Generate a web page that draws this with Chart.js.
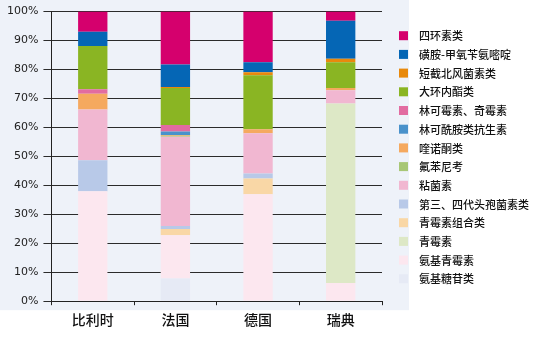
<!DOCTYPE html>
<html>
<head>
<meta charset="utf-8">
<script src="https://cdn.jsdelivr.net/npm/chart.js@4/dist/chart.umd.min.js"></script>
<style>
  html, body { margin: 0; padding: 0; background: #fff; }
  canvas { display: block; }
</style>
</head>
<body>
<canvas id="amrShareChart" width="554" height="337"></canvas>
<script>
// countries along the x axis
const countries = ['比利时', '法国', '德国', '瑞典'];

// share of each antibiotic class (%), stacked from the bottom up
const aminoglycosides   = [0,    7.8,  0,    0];
const aminopenicillins  = [38.0, 15.0, 36.9, 6.3];
const penicillins       = [0,    0,    0,    62.0];
const penicillinCombos  = [0,    2.1,  5.5,  0];
const cephalosporins34  = [10.7, 1.1,  1.7,  0];
const colistin          = [17.5, 30.8, 13.9, 4.5];
const florfenicol       = [0,    0.3,  0,    0];
const quinolones        = [5.4,  0.3,  1.4,  0.8];
const lincosamides      = [0,    1.2,  0,    0];
const lincoSpectino     = [1.6,  2.2,  0,    0];
const macrolides        = [14.9, 12.8, 18.6, 8.9];
const pleuromutilins    = [0,    0.4,  1.1,  1.2];
const sulfaTmp          = [4.9,  7.7,  3.4,  13.1];
const tetracyclines     = [7.0,  18.3, 17.5, 3.2];

const yTicks = [0, 10, 20, 30, 40, 50, 60, 70, 80, 90, 100];

const series = [
    { label: '氨基糖苷类', data: aminoglycosides, color: '#E6EAF5' },
    { label: '氨基青霉素', data: aminopenicillins, color: '#FCE7EF' },
    { label: '青霉素', data: penicillins, color: '#DDE8C6' },
    { label: '青霉素组合类', data: penicillinCombos, color: '#F9D7A6' },
    { label: '第三、四代头孢菌素类', data: cephalosporins34, color: '#B8C9E8' },
    { label: '粘菌素', data: colistin, color: '#F1B7D1' },
    { label: '氟苯尼考', data: florfenicol, color: '#A8C776' },
    { label: '喹诺酮类', data: quinolones, color: '#F5A95F' },
    { label: '林可酰胺类抗生素', data: lincosamides, color: '#4A92CB' },
    { label: '林可霉素、奇霉素', data: lincoSpectino, color: '#E26CA1' },
    { label: '大环内酯类', data: macrolides, color: '#8AB523' },
    { label: '短截北风菌素类', data: pleuromutilins, color: '#E8890C' },
    { label: '磺胺-甲氧苄氨嘧啶', data: sulfaTmp, color: '#0566B5' },
    { label: '四环素类', data: tetracyclines, color: '#D5006D' }
];

// pale panel behind the plot and axes
const panelBg = {
    id: 'panelBg',
    beforeDraw(chart) {
        const { ctx, chartArea } = chart;
        ctx.save();
        ctx.fillStyle = '#EEF2F9';
        ctx.fillRect(0, 0, chartArea.right + 27, chartArea.bottom + 9);
        ctx.restore();
    }
};

// legend column on the right, top of the stack first
const sideLegend = {
    id: 'sideLegend',
    afterDraw(chart) {
        const { ctx, chartArea } = chart;
        const x = chartArea.right + 17;
        let y = 35.7;
        ctx.save();
        ctx.font = '500 11px "Noto Sans CJK SC", sans-serif';
        ctx.textBaseline = 'middle';
        ctx.textAlign = 'left';
        for (let i = chart.data.datasets.length - 1; i >= 0; i--) {
            const ds = chart.data.datasets[i];
            ctx.fillStyle = ds.backgroundColor;
            ctx.fillRect(x, y - 4.5, 9, 9);
            ctx.fillStyle = '#111';
            ctx.fillText(ds.label, x + 20, y + 0.5);
            y += 18.7;
        }
        ctx.restore();
    }
};

new Chart(document.getElementById('amrShareChart').getContext('2d'), {
    type: 'bar',
    data: {
        labels: countries,
        datasets: series.map(s => ({
            label: s.label,
            data: s.data,
            backgroundColor: s.color,
            borderWidth: 0,
            categoryPercentage: 1,
            barPercentage: 0.355
        }))
    },
    options: {
        responsive: false,
        animation: false,
        layout: { padding: { left: 2, top: 9, right: 172, bottom: 3 } },
        plugins: {
            legend: { display: false },
            tooltip: { enabled: false }
        },
        scales: {
            x: {
                stacked: true,
                grid: {
                    drawOnChartArea: false,
                    offset: true,
                    tickLength: 4,
                    color: '#222',
                    lineWidth: 1
                },
                border: { color: '#222', width: 1 },
                ticks: {
                    color: '#111',
                    padding: 6,
                    font: { family: '"Noto Sans CJK SC", sans-serif', size: 14, weight: '500' }
                }
            },
            y: {
                stacked: true,
                min: 0,
                max: 100,
                afterBuildTicks(scale) {
                    scale.ticks = yTicks.map(v => ({ value: v }));
                },
                grid: {
                    color: '#2b2b2b',
                    lineWidth: 1,
                    tickLength: 8
                },
                border: { color: '#222', width: 1 },
                ticks: {
                    color: '#222',
                    padding: 5,
                    font: { family: '"DejaVu Sans", sans-serif', size: 11 },
                    callback: v => v + '%'
                }
            }
        }
    },
    plugins: [panelBg, sideLegend]
});
</script>
</body>
</html>
